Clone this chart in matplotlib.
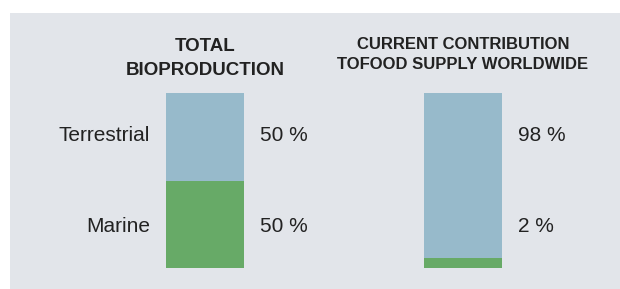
import matplotlib.pyplot as plt

# data
titles = [["TOTAL", "BIOPRODUCTION"], ["CURRENT CONTRIBUTION", "TOFOOD SUPPLY WORLDWIDE"]]
categories = ["Terrestrial", "Marine"]
terrestrial_share = [50, 98]
marine_share = [50, 2]
# drawn segment heights as they appear in the picture (marine sliver is exaggerated)
marine_height = [50, 5.5]
terrestrial_height = [50, 94.5]

BLUE = "#97bacb"
GREEN = "#67aa67"
PANEL = "#e2e5ea"
TEXT = "#222222"

plt.rcParams["font.family"] = ["Liberation Sans", "DejaVu Sans"]

W, H = 620, 289
fig = plt.figure(figsize=(W / 100, H / 100), dpi=100, facecolor="white")

# grey panel behind everything
bg = fig.add_axes([10 / W, 0, 1 - 10 / W, 1 - 13 / H], zorder=0)
bg.set_facecolor(PANEL)
bg.set_xticks([])
bg.set_yticks([])
for s in bg.spines.values():
    s.set_visible(False)

# axes spans the bar height, full panel width
ax = fig.add_axes([10 / W, 1 - 268 / H, 610 / W, 175 / H], zorder=1)
ax.set_facecolor("none")
unit = 258  # px between bar centres
ax.set_xlim(-(205 - 10) / unit, 1 + (620 - 463) / unit)
ax.set_ylim(0, 100)
ax.axis("off")

x = range(len(titles))
width = 78 / unit
ax.bar(x, marine_height, width=width, color=GREEN, zorder=2)
ax.bar(x, terrestrial_height, bottom=marine_height, width=width, color=BLUE, zorder=2)

# text rows, baselines in pixels from the top
row_base = [141, 232]
fs = 15
pos = ("data", "figure pixels")
for i in x:
    right = i + width / 2
    for r, share in enumerate([terrestrial_share[i], marine_share[i]]):
        ax.annotate(f"{share} %", (right, H - row_base[r]), xycoords=pos, xytext=(16, 0),
                    textcoords="offset pixels", ha="left", va="baseline",
                    fontsize=fs, color=TEXT)

left = 0 - width / 2
for r, cat in enumerate(categories):
    ax.annotate(cat, (left, H - row_base[r]), xycoords=pos, xytext=(-16, 0),
                textcoords="offset pixels", ha="right", va="baseline",
                fontsize=fs, color=TEXT)

# titles above each bar
title_base = [[51, 75], [49, 69]]
title_size = [13.5, 12]
for i in x:
    for line, base in zip(titles[i], title_base[i]):
        ax.annotate(line, (i, H - base), xycoords=pos, ha="center", va="baseline",
                    fontsize=title_size[i], fontweight="bold", color=TEXT)

fig.savefig("out.png", dpi=100)
